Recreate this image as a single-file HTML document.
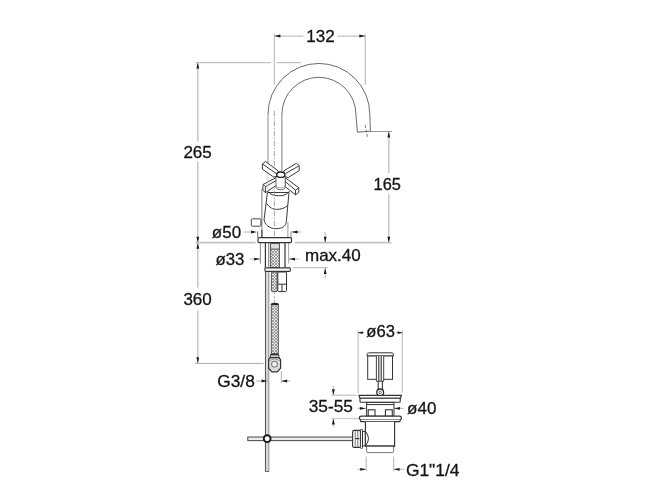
<!DOCTYPE html>
<html lang="en">
<head>
<meta charset="utf-8">
<title>Technical drawing</title>
<style>
html,body{margin:0;padding:0;background:#fff;}
body{width:667px;height:500px;overflow:hidden;}
svg{display:block;will-change:transform;}
svg text{font-family:"Liberation Sans",sans-serif;}
</style>
</head>
<body>
<svg width="667" height="500" viewBox="0 0 667 500">
<rect width="667" height="500" fill="#ffffff"/>
<line x1="197.8" y1="62.6" x2="197.8" y2="141.4" stroke="#c2c2c2" stroke-width="1.4" />
<line x1="197.8" y1="161.4" x2="197.8" y2="287.4" stroke="#c2c2c2" stroke-width="1.4" />
<line x1="197.8" y1="310.2" x2="197.8" y2="363.2" stroke="#c2c2c2" stroke-width="1.4" />
<polygon points="197.8,62.6 196.4,68.6 199.2,68.6" fill="#1c1c1c"/>
<polygon points="197.8,242.7 196.4,236.7 199.2,236.7" fill="#1c1c1c"/>
<polygon points="197.8,242.7 196.4,248.7 199.2,248.7" fill="#1c1c1c"/>
<polygon points="197.8,363.2 196.4,357.2 199.2,357.2" fill="#1c1c1c"/>
<line x1="195.5" y1="62.6" x2="270.9" y2="62.6" stroke="#c2c2c2" stroke-width="1.25" />
<line x1="276.6" y1="62.6" x2="300.8" y2="62.6" stroke="#c2c2c2" stroke-width="1.25" />
<line x1="274.4" y1="33.5" x2="274.4" y2="84.5" stroke="#c2c2c2" stroke-width="1.25" />
<line x1="365.3" y1="34" x2="365.3" y2="85" stroke="#c2c2c2" stroke-width="1.25" />
<line x1="274.4" y1="36.1" x2="303.5" y2="36.1" stroke="#c2c2c2" stroke-width="1.25" />
<line x1="337.7" y1="36.1" x2="365.3" y2="36.1" stroke="#c2c2c2" stroke-width="1.25" />
<polygon points="274.4,36.1 280.4,34.6 280.4,37.6" fill="#1c1c1c"/>
<polygon points="365.3,36.1 359.3,34.6 359.3,37.6" fill="#1c1c1c"/>
<line x1="388.8" y1="131.5" x2="388.8" y2="173.2" stroke="#c2c2c2" stroke-width="1.4" />
<line x1="388.8" y1="194.2" x2="388.8" y2="242.7" stroke="#c2c2c2" stroke-width="1.4" />
<polygon points="388.8,131.5 387.4,137.5 390.2,137.5" fill="#1c1c1c"/>
<polygon points="388.8,242.7 387.4,236.7 390.2,236.7" fill="#1c1c1c"/>
<line x1="370" y1="131.5" x2="392" y2="131.5" stroke="#999" stroke-width="1" />
<line x1="195.3" y1="242.6" x2="255.6" y2="242.6" stroke="#c2c2c2" stroke-width="1.7" />
<line x1="295" y1="242.6" x2="391.5" y2="242.6" stroke="#c2c2c2" stroke-width="1.7" />
<line x1="325.2" y1="232.2" x2="325.2" y2="242.7" stroke="#c2c2c2" stroke-width="1.25" />
<line x1="325.2" y1="268" x2="325.2" y2="278.5" stroke="#c2c2c2" stroke-width="1.25" />
<polygon points="325.2,242.7 323.8,236.7 326.6,236.7" fill="#1c1c1c"/>
<polygon points="325.2,268.0 323.8,274.0 326.6,274.0" fill="#1c1c1c"/>
<line x1="293.4" y1="267.5" x2="327.7" y2="267.5" stroke="#c2c2c2" stroke-width="1.25" />
<line x1="243.6" y1="232" x2="250" y2="232" stroke="#c2c2c2" stroke-width="1.25" />
<polygon points="256.9,232.0 250.9,230.6 250.9,233.4" fill="#1c1c1c"/>
<line x1="291.6" y1="232" x2="301" y2="232" stroke="#c2c2c2" stroke-width="1.25" />
<polygon points="291.6,232.0 297.6,230.6 297.6,233.4" fill="#1c1c1c"/>
<line x1="257.7" y1="231.4" x2="257.7" y2="237.5" stroke="#666" stroke-width="1" />
<line x1="291" y1="231.4" x2="291" y2="237.5" stroke="#888" stroke-width="1" />
<line x1="249.6" y1="259.1" x2="260" y2="259.1" stroke="#c2c2c2" stroke-width="1.25" />
<polygon points="260.2,259.1 254.2,257.7 254.2,260.6" fill="#1c1c1c"/>
<line x1="289" y1="259.1" x2="299.4" y2="259.1" stroke="#c2c2c2" stroke-width="1.25" />
<polygon points="289.0,259.1 295.0,257.7 295.0,260.6" fill="#1c1c1c"/>
<line x1="260.4" y1="243" x2="260.4" y2="263.6" stroke="#888" stroke-width="1" />
<line x1="288.6" y1="243" x2="288.6" y2="263.6" stroke="#aaa" stroke-width="1" />
<line x1="195.2" y1="363.4" x2="263.6" y2="363.4" stroke="#aaa" stroke-width="1" />
<line x1="358.1" y1="330.6" x2="358.1" y2="392.8" stroke="#c2c2c2" stroke-width="1.25" />
<line x1="402.3" y1="330.6" x2="402.3" y2="392.8" stroke="#c2c2c2" stroke-width="1.25" />
<line x1="358.1" y1="332.7" x2="364" y2="332.7" stroke="#888" stroke-width="1" />
<line x1="396.4" y1="332.7" x2="402.3" y2="332.7" stroke="#888" stroke-width="1" />
<polygon points="358.1,332.7 362.7,331.2 362.7,334.1" fill="#1c1c1c"/>
<polygon points="402.3,332.7 397.7,331.2 397.7,334.1" fill="#1c1c1c"/>
<line x1="333.4" y1="386" x2="333.4" y2="395" stroke="#c2c2c2" stroke-width="1.25" />
<line x1="333.4" y1="418.4" x2="333.4" y2="427.4" stroke="#c2c2c2" stroke-width="1.25" />
<polygon points="333.4,395.2 331.9,389.2 334.8,389.2" fill="#1c1c1c"/>
<polygon points="333.4,418.4 331.9,424.4 334.8,424.4" fill="#1c1c1c"/>
<line x1="331.4" y1="395.2" x2="356.5" y2="395.2" stroke="#c2c2c2" stroke-width="1.25" />
<line x1="331.4" y1="418.5" x2="359" y2="418.5" stroke="#cdcdcd" stroke-width="1.3" />
<line x1="357.4" y1="408.4" x2="365.8" y2="408.4" stroke="#c2c2c2" stroke-width="1.25" />
<polygon points="365.9,408.4 359.9,406.9 359.9,409.8" fill="#1c1c1c"/>
<line x1="394" y1="408.4" x2="403.6" y2="408.4" stroke="#c2c2c2" stroke-width="1.25" />
<polygon points="394.0,408.4 400.0,406.9 400.0,409.8" fill="#1c1c1c"/>
<line x1="357.5" y1="469.3" x2="366.2" y2="469.3" stroke="#c2c2c2" stroke-width="1.25" />
<polygon points="366.2,469.3 360.2,467.9 360.2,470.8" fill="#1c1c1c"/>
<line x1="393.6" y1="469.3" x2="404.4" y2="469.3" stroke="#c2c2c2" stroke-width="1.25" />
<polygon points="393.6,469.3 399.6,467.9 399.6,470.8" fill="#1c1c1c"/>
<line x1="366.2" y1="456.6" x2="366.2" y2="471" stroke="#c2c2c2" stroke-width="1.25" />
<line x1="393.6" y1="456.6" x2="393.6" y2="471" stroke="#c2c2c2" stroke-width="1.25" />
<text x="320.5" y="42" font-size="17" text-anchor="middle" fill="#151515" stroke="#151515" stroke-width="0.3" stroke-linejoin="round">132</text>
<text x="197.6" y="157.8" font-size="17" text-anchor="middle" fill="#151515" stroke="#151515" stroke-width="0.3" stroke-linejoin="round">265</text>
<text x="387.3" y="189.8" font-size="16.4" text-anchor="middle" fill="#151515" stroke="#151515" stroke-width="0.3" stroke-linejoin="round">165</text>
<text x="211.8" y="237.5" font-size="17" text-anchor="start" fill="#151515" stroke="#151515" stroke-width="0.3" stroke-linejoin="round">ø50</text>
<text x="215.5" y="264.8" font-size="16.8" text-anchor="start" fill="#151515" stroke="#151515" stroke-width="0.3" stroke-linejoin="round">ø33</text>
<text x="305" y="260.5" font-size="17" text-anchor="start" fill="#151515" stroke="#151515" stroke-width="0.3" stroke-linejoin="round">max.40</text>
<text x="197.6" y="305.1" font-size="17" text-anchor="middle" fill="#151515" stroke="#151515" stroke-width="0.3" stroke-linejoin="round">360</text>
<text x="217.3" y="386.7" font-size="17.3" text-anchor="start" fill="#151515" stroke="#151515" stroke-width="0.3" stroke-linejoin="round">G3/8</text>
<text x="366.3" y="337.4" font-size="16.6" text-anchor="start" fill="#151515" stroke="#151515" stroke-width="0.3" stroke-linejoin="round">ø63</text>
<text x="308.7" y="412.1" font-size="17.3" text-anchor="start" fill="#151515" stroke="#151515" stroke-width="0.3" stroke-linejoin="round">35-55</text>
<text x="407.1" y="414" font-size="17" text-anchor="start" fill="#151515" stroke="#151515" stroke-width="0.3" stroke-linejoin="round">ø40</text>
<text x="405.9" y="475.7" font-size="17.4" text-anchor="start" fill="#151515" stroke="#151515" stroke-width="0.3" stroke-linejoin="round">G1&quot;1/4</text>
<line x1="268.0" y1="167" x2="268.0" y2="114.8" stroke="#8c8c8c" stroke-width="1" />
<path d="M268.0,114.8 L268.0,114.3 A50.9,50.9 0 0 1 369.79999999999995,114.3 L370.4,131.2" stroke="#6a6a6a" stroke-width="1" fill="none" />
<line x1="281.9" y1="171" x2="281.9" y2="114.8" stroke="#7c7c7c" stroke-width="1" />
<path d="M281.9,114.8 L281.9,114.3 A37.0,37.0 0 0 1 355.9,114.3 L357.4,132.2 L370.4,131.2" stroke="#6a6a6a" stroke-width="1" fill="none" />
<line x1="365.1" y1="125" x2="367.4" y2="137" stroke="#555" stroke-width="0.8" stroke-dasharray="3 1.5"/>
<line x1="261.9" y1="189" x2="261.9" y2="230" stroke="#777" stroke-width="1" />
<line x1="261.9" y1="230" x2="261.9" y2="237.4" stroke="#333" stroke-width="1.3" />
<line x1="287.9" y1="222" x2="287.9" y2="237.4" stroke="#999" stroke-width="1" />
<rect x="251.3" y="218.8" width="9.6" height="7.4" rx="1" stroke="#444" stroke-width="1" fill="#fff"/>
<path d="M267.4,192.5 L264.1,219.5 C264.4,224.5 269.5,228.7 276,228.7 C282,228.7 286,226.5 286.3,221.5 L289,192.5 Z" stroke="#3a3a3a" stroke-width="1" fill="#fff" />
<path d="M266.8,203.6 C269.5,207.6 273,209.4 276.6,209.4 C281,209.4 285,208.2 287.9,205.4" stroke="#3a3a3a" stroke-width="1" fill="none" />
<path d="M268,191.5 C270,194.5 274,195.8 278.7,195.8 C283.5,195.8 287.5,194.5 289.3,191.2" stroke="#3a3a3a" stroke-width="1" fill="none" />
<line x1="274.4" y1="110.8" x2="274.4" y2="246" stroke="#8e8e8e" stroke-width="0.8" stroke-dasharray="5.5 1.5 1.5 1.5"/>
<polygon points="276.5,177.3 263.2,184.4 262.7,190 265.4,192.6 276.5,185.3" stroke="#3a3a3a" stroke-width="1" fill="#fff" stroke-linejoin="round"/>
<line x1="265.4" y1="186.6" x2="276.5" y2="180.4" stroke="#3a3a3a" stroke-width="1" />
<line x1="265.4" y1="186.6" x2="265.4" y2="192.6" stroke="#3a3a3a" stroke-width="1" />
<line x1="263.2" y1="184.4" x2="265.4" y2="186.6" stroke="#3a3a3a" stroke-width="1" />
<polygon points="285.1,177.6 298.8,187.8 298.8,192.4 295.5,194.8 285.1,186.6" stroke="#3a3a3a" stroke-width="1" fill="#fff" stroke-linejoin="round"/>
<line x1="285.1" y1="181.4" x2="295.5" y2="190.2" stroke="#3a3a3a" stroke-width="1" />
<line x1="295.5" y1="190.2" x2="295.5" y2="194.8" stroke="#3a3a3a" stroke-width="1" />
<line x1="295.5" y1="190.2" x2="298.8" y2="187.8" stroke="#3a3a3a" stroke-width="1" />
<path d="M276,177 L276,187.4 C277.2,190.6 284,190.6 285.2,187.4 L285.2,177" stroke="#5a5a5a" stroke-width="0.9" fill="#fff" />
<path d="M276,186.2 C277.8,188.6 283.4,188.6 285.2,186.2" stroke="#888" stroke-width="0.8" fill="none" />
<line x1="267.9" y1="165" x2="267.9" y2="190" stroke="#c8c8c8" stroke-width="0.8" />
<polygon points="265.4,161.4 278.6,171.2 279,176 273.6,177 262.4,169.2 262.4,164" stroke="#3a3a3a" stroke-width="1" fill="#fff" stroke-linejoin="round"/>
<line x1="262.8" y1="164.2" x2="276.6" y2="173.8" stroke="#3a3a3a" stroke-width="1" />
<polygon points="296.4,163.3 283.8,170.9 283,176 288.2,177.6 299.2,170.6 299.2,165.6" stroke="#3a3a3a" stroke-width="1" fill="#fff" stroke-linejoin="round"/>
<line x1="298.8" y1="165.9" x2="285.6" y2="173.5" stroke="#3a3a3a" stroke-width="1" />
<ellipse cx="280.8" cy="174.7" rx="4.1" ry="2.7" stroke="#222" stroke-width="1.4" fill="#fff"/>
<rect x="258" y="237.7" width="33.5" height="4.9" rx="1.2" stroke="#333" stroke-width="1.2" fill="#fff"/>
<line x1="265.4" y1="243" x2="265.4" y2="267.5" stroke="#333" stroke-width="1.2" />
<line x1="285" y1="243" x2="285" y2="267.5" stroke="#333" stroke-width="1.2" />
<line x1="268.7" y1="243" x2="268.7" y2="267.5" stroke="#777" stroke-width="1" />
<defs><pattern id="hx" width="3" height="3" patternUnits="userSpaceOnUse"><rect width="3" height="3" fill="#e8e8e8"/><path d="M0,0 L3,3 M3,0 L0,3" stroke="#808080" stroke-width="0.7"/></pattern></defs>
<rect x="270.6" y="243.5" width="8.8" height="24" rx="0" stroke="#555" stroke-width="1" fill="url(#hx)"/>
<rect x="270.6" y="243.5" width="8.8" height="5.6" rx="0" stroke="#555" stroke-width="1" fill="#ddd"/>
<rect x="264.9" y="267.9" width="25.4" height="3.5" rx="0.8" stroke="#333" stroke-width="1.1" fill="#fff"/>
<rect x="265.5" y="272" width="3.2" height="199.5" fill="#dcdcdc"/>
<line x1="265.5" y1="272" x2="265.5" y2="471.5" stroke="#5a5a5a" stroke-width="1.1" />
<line x1="268.8" y1="272" x2="268.8" y2="471.5" stroke="#8a8a8a" stroke-width="1" />
<line x1="265.4" y1="471.5" x2="269" y2="471.5" stroke="#666" stroke-width="1" />
<rect x="271.4" y="272" width="5.8" height="19.6" rx="1" stroke="#555" stroke-width="1" fill="url(#hx)"/>
<rect x="277.8" y="272" width="8.7" height="19.6" rx="1" stroke="#333" stroke-width="1" fill="#fff"/>
<line x1="277.8" y1="284.2" x2="286.5" y2="284.2" stroke="#333" stroke-width="1" />
<line x1="282" y1="284.2" x2="282" y2="291.6" stroke="#333" stroke-width="1" />
<line x1="274.3" y1="292" x2="274.3" y2="303" stroke="#999" stroke-width="0.8" stroke-dasharray="2.5 1.5"/>
<rect x="271.3" y="303.6" width="7" height="50.2" rx="0.5" stroke="#555" stroke-width="1" fill="url(#hx)"/>
<path d="M271.2,304.4 Q274.8,301.8 278.4,304.4 Z" stroke="#222" stroke-width="1" fill="#222" />
<path d="M270.9,353.8 L278.3,353.8 L279.2,357.6 L270,357.6 Z" stroke="#444" stroke-width="1" fill="#ccc" />
<line x1="270.9" y1="354.6" x2="278.3" y2="354.6" stroke="#333" stroke-width="1.4" />
<path d="M268.6,359.6 L270.2,357.6 L279,357.6 L280.6,359.6 L280.6,368.2 L277.3,371.8 L271.9,371.8 L268.6,368.2 Z" stroke="#333" stroke-width="1.2" fill="#dadada" />
<circle cx="274.5" cy="364.2" r="3" stroke="#6a6a6a" stroke-width="1" fill="#eee"/>
<path d="M269.2,360.8 L274.5,358.6 L280,360.8" stroke="#888" stroke-width="0.8" fill="none" />
<line x1="256" y1="381" x2="262" y2="381" stroke="#c2c2c2" stroke-width="1.25" />
<polygon points="267.5,381.0 261.5,379.6 261.5,382.4" fill="#1c1c1c"/>
<line x1="281.2" y1="381" x2="290.2" y2="381" stroke="#c2c2c2" stroke-width="1.25" />
<polygon points="281.2,381.0 287.2,379.6 287.2,382.4" fill="#1c1c1c"/>
<line x1="267.8" y1="371" x2="267.8" y2="383" stroke="#c2c2c2" stroke-width="1.25" />
<line x1="281.4" y1="371" x2="281.4" y2="383" stroke="#c2c2c2" stroke-width="1.25" />
<rect x="247.8" y="437" width="104.8" height="3.6" rx="0" stroke="#484848" stroke-width="1" fill="#ececec"/>
<circle cx="267.2" cy="438.7" r="3.4" stroke="#1a1a1a" stroke-width="1.9" fill="#fff"/>
<path d="M367,356 L367,354.6 Q367,352.8 369.4,352.8 L391,352.8 Q393.4,352.8 393.4,354.6 L393.4,356 Z" stroke="#333" stroke-width="1" fill="#fff" />
<rect x="367.7" y="356" width="24.8" height="23.3" rx="0" stroke="#333" stroke-width="1" fill="#fff"/>
<path d="M376.4,356 L376.4,381.3 L383.7,381.3 L383.7,356" stroke="#444" stroke-width="1" fill="#fff" />
<line x1="378.8" y1="356" x2="378.8" y2="381" stroke="#333" stroke-width="1.1" />
<line x1="381.2" y1="356" x2="381.2" y2="381" stroke="#333" stroke-width="1.1" />
<line x1="378.2" y1="381.3" x2="378.2" y2="389.4" stroke="#333" stroke-width="1.1" />
<line x1="382.4" y1="381.3" x2="382.4" y2="389.4" stroke="#333" stroke-width="1.1" />
<circle cx="380.2" cy="392.4" r="3.4" stroke="#2a2a2a" stroke-width="1.3" fill="#fff"/>
<circle cx="380.2" cy="392.4" r="1.2" stroke="#444" stroke-width="0.8" fill="#fff"/>
<path d="M359,395.4 L401.4,395.4 L400.4,398.3 L360,398.3 Z" stroke="#333" stroke-width="1.2" fill="#fff" />
<rect x="360" y="398.3" width="40.2" height="3.9" rx="0.8" stroke="#333" stroke-width="1.1" fill="#fff"/>
<rect x="366.6" y="402.4" width="27.4" height="13.8" rx="0" stroke="#333" stroke-width="1" fill="#fff"/>
<line x1="366.6" y1="404.6" x2="394" y2="404.6" stroke="#333" stroke-width="1" />
<rect x="368.2" y="409.8" width="6.8" height="6.4" rx="0" stroke="#333" stroke-width="1.1" fill="#fff"/>
<rect x="385.4" y="409.8" width="6.9" height="6.4" rx="0" stroke="#333" stroke-width="1.1" fill="#fff"/>
<rect x="359.4" y="416.2" width="42" height="3.6" rx="1.8" stroke="#333" stroke-width="1.3" fill="#fff"/>
<path d="M360.4,419.8 L360.8,421.6 L399.8,421.6 L400.4,419.8" stroke="#333" stroke-width="1.1" fill="#fff" />
<path d="M365.4,421.8 L365.4,446.1 L394.6,446.1 L394.6,421.8" stroke="#3a3a3a" stroke-width="1.2" fill="#fff" />
<path d="M366.6,446.1 L366.6,451.2 Q366.6,452.6 368,452.6 L392.2,452.6 Q393.6,452.6 393.6,451.2 L393.6,446.1" stroke="#777" stroke-width="1" fill="#fff" />
<line x1="365.4" y1="446.1" x2="394.6" y2="446.1" stroke="#333" stroke-width="1.2" />
<line x1="362.4" y1="431.4" x2="365.4" y2="431.4" stroke="#333" stroke-width="1" />
<line x1="362.4" y1="445.8" x2="365.4" y2="445.8" stroke="#333" stroke-width="1" />
<path d="M365.4,431.4 Q371.6,438.6 365.4,445.8 Z" stroke="#333" stroke-width="1" fill="#fff" />
<rect x="352.6" y="430.4" width="8" height="17" rx="1.5" stroke="#333" stroke-width="1.1" fill="#fff"/>
<rect x="360.4" y="429.4" width="2.1" height="19" rx="0.8" stroke="#333" stroke-width="1" fill="#fff"/>
<line x1="355.2" y1="431" x2="355.2" y2="447" stroke="#777" stroke-width="1" />
<line x1="357.8" y1="431" x2="357.8" y2="447" stroke="#777" stroke-width="1" />
<line x1="355.4" y1="438.6" x2="359.4" y2="438.6" stroke="#333" stroke-width="1.2" />
</svg>
</body>
</html>
